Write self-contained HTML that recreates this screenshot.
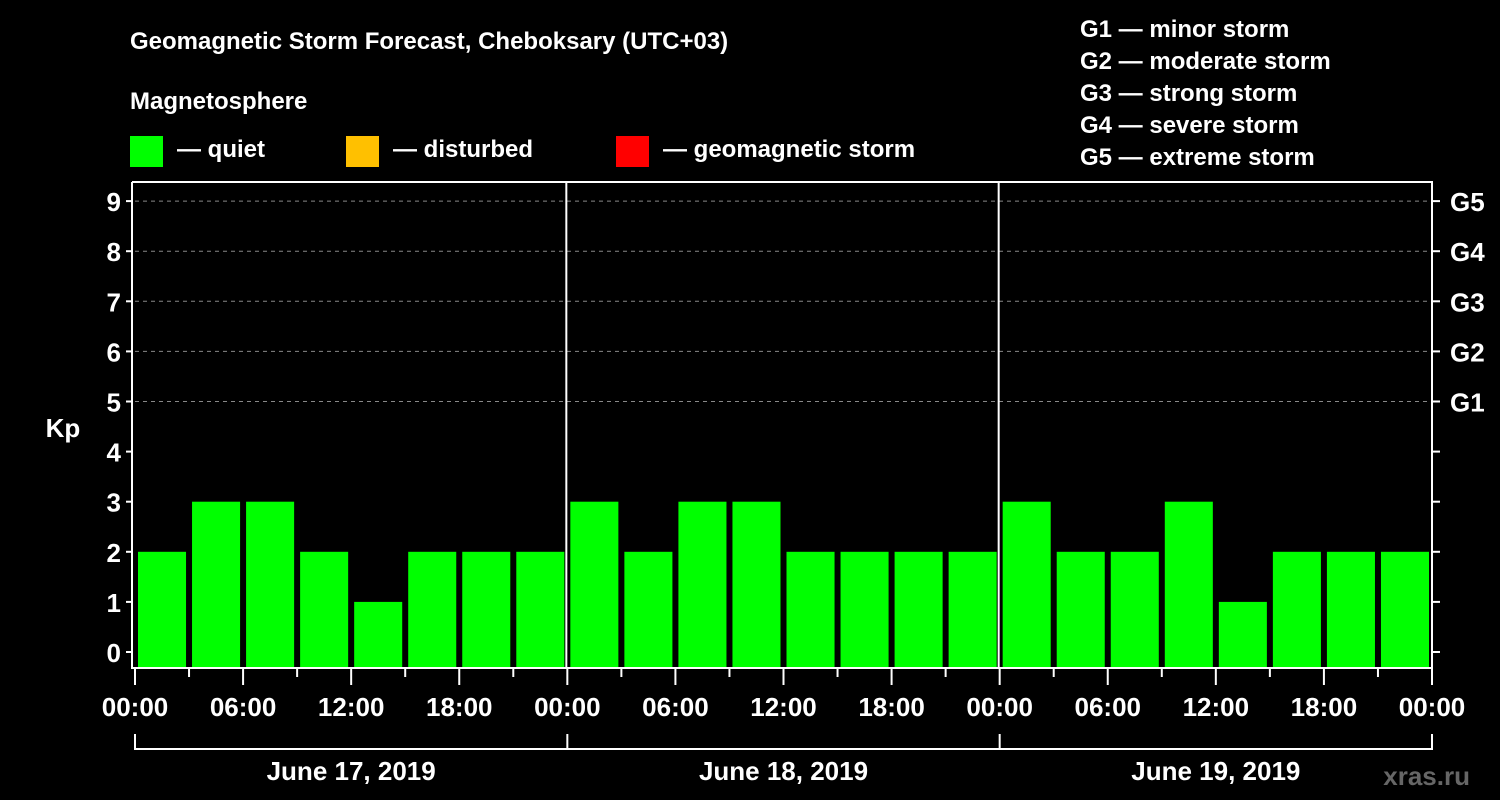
<!DOCTYPE html>
<html><head><meta charset="utf-8"><style>
html,body{margin:0;padding:0;background:#000;}
svg{display:block;font-family:"Liberation Sans",Arial,sans-serif;font-weight:bold;}
</style></head><body>
<svg id="chart" width="1500" height="800" viewBox="0 0 1500 800">
<text x="130" y="49" fill="#fff" font-size="24">Geomagnetic Storm Forecast, Cheboksary (UTC+03)</text>
<text x="130" y="109" fill="#fff" font-size="24">Magnetosphere</text>
<g><rect x="130" y="136" width="33" height="31" fill="#00ff00"/><text x="177" y="157" fill="#fff" font-size="24">— quiet</text></g>
<g><rect x="346" y="136" width="33" height="31" fill="#ffc000"/><text x="393" y="157" fill="#fff" font-size="24">— disturbed</text></g>
<g><rect x="616" y="136" width="33" height="31" fill="#ff0000"/><text x="663" y="157" fill="#fff" font-size="24">— geomagnetic storm</text></g>
<g fill="#fff" font-size="24">
<text x="1080" y="37">G1 — minor storm</text>
<text x="1080" y="69">G2 — moderate storm</text>
<text x="1080" y="101">G3 — strong storm</text>
<text x="1080" y="133">G4 — severe storm</text>
<text x="1080" y="165">G5 — extreme storm</text>
</g>
<text x="63" y="437" fill="#fff" font-size="26" text-anchor="middle">Kp</text>
<text x="1470" y="785" fill="#666" font-size="26" text-anchor="end">xras.ru</text>
<g id="plot"></g>
</svg>
<script>
const kpValues=[2,3,3,2,1,2,2,2, 3,2,3,3,2,2,2,2, 3,2,2,3,1,2,2,2];
const dayLabels=["June 17, 2019","June 18, 2019","June 19, 2019"];
const hourLabels=["00:00","06:00","12:00","18:00"];
const yTicks=[0,1,2,3,4,5,6,7,8,9];
const gLabels=["G1","G2","G3","G4","G5"];
const x0=135,x1=1432,yTop=182,yBot=668;
const xScale=h=>x0+h*(x1-x0)/72;
const yScale=v=>652-v*50.1;
const NS="http://www.w3.org/2000/svg";
const g=document.getElementById('plot');
function mk(t,a,p){const e=document.createElementNS(NS,t);for(const k in a)e.setAttribute(k,a[k]);(p||g).appendChild(e);return e;}
// grid
gLabels.forEach((l,i)=>{const y=yScale(5+i);
 const ln=mk('line',{x1:x0,x2:x1,y1:y,y2:y,stroke:'#888','stroke-dasharray':'4,4','stroke-width':1});
 
 
 const t=mk('text',{x:1450,y:y+10,fill:'#fff','font-size':26});t.textContent=l;
 
 
});
// bars
kpValues.forEach((v,i)=>{const xa=xScale(i*3)+3,xb=xScale(i*3+3)-3;
 const r=mk('rect',{x:xa,y:yScale(v),width:xb-xa,height:yBot-1-yScale(v),fill:v>=5?'#ff0000':(v>=4?'#ffc000':'#00ff00')});
 
 
});
// axes
mk('polyline',{points:`${x0-3},${yTop} ${x0-3},${yBot} ${x1},${yBot} ${x1},${yTop} ${x0-3},${yTop}`,fill:'none',stroke:'#fff','stroke-width':2});
[24,48].forEach(h=>mk('line',{x1:xScale(h)-1,x2:xScale(h)-1,y1:yTop,y2:yBot,stroke:'#fff','stroke-width':2}));
yTicks.forEach(v=>{const y=yScale(v);
 mk('line',{x1:x0-9,x2:x0-3,y1:y,y2:y,stroke:'#fff','stroke-width':2});
 mk('line',{x1:x1,x2:x1+8,y1:y,y2:y,stroke:'#fff','stroke-width':2});
 const t=mk('text',{x:x0-14,y:y+10,fill:'#fff','font-size':26,'text-anchor':'end'});t.textContent=v;
 
 
});
for(let h=0;h<=72;h+=3){const x=xScale(h);const maj=h%6===0;
 mk('line',{x1:x,x2:x,y1:yBot,y2:yBot+(maj?17:9),stroke:'#fff','stroke-width':2});
 if(maj){const t=mk('text',{x:x,y:716,fill:'#fff','font-size':26,'text-anchor':'middle'});t.textContent=hourLabels[(h/6)%4];
 
 }
}
dayLabels.forEach((d,i)=>{const xa=xScale(i*24),xb=xScale(i*24+24);
 mk('line',{x1:xa,x2:xb,y1:749,y2:749,stroke:'#fff','stroke-width':2});
 mk('line',{x1:xa,x2:xa,y1:734,y2:750,stroke:'#fff','stroke-width':2});
 if(i===2)mk('line',{x1:xb,x2:xb,y1:734,y2:750,stroke:'#fff','stroke-width':2});
 const t=mk('text',{x:(xa+xb)/2,y:780,fill:'#fff','font-size':26,'text-anchor':'middle'});t.textContent=d;
 
 
});
</script>
</body></html>
